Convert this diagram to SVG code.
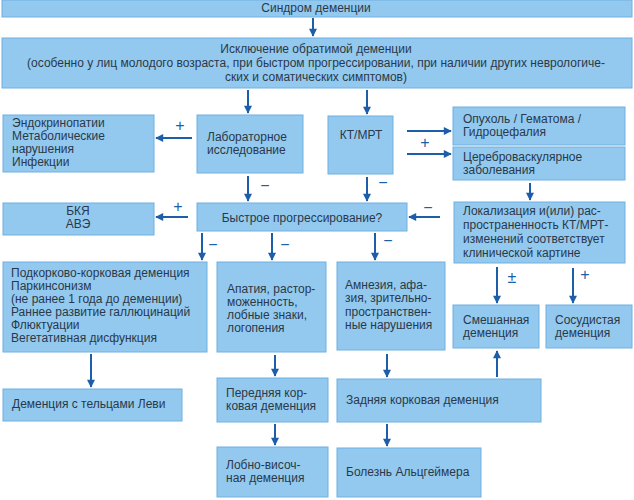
<svg xmlns="http://www.w3.org/2000/svg" width="634" height="500" viewBox="0 0 634 500">
<style>
.b{fill:#93c9ee;stroke:#6fb0e0;stroke-width:1}
.t{font-family:"Liberation Sans",Arial,sans-serif;font-size:12px;fill:#2a384a}
.c{text-anchor:middle}
.s{font-family:"Liberation Sans",Arial,sans-serif;font-size:16px;fill:#1d5ea8;text-anchor:middle}
.a{stroke:#1d5ea8;stroke-width:2;fill:none;marker-end:url(#ah)}
</style>
<defs>
<marker id="ah" viewBox="0 0 10 10" refX="9" refY="5" markerWidth="4.5" markerHeight="4" orient="auto" markerUnits="strokeWidth">
<path d="M0,0 L10,5 L0,10 z" fill="#1d5ea8"/>
</marker>
</defs>
<rect width="634" height="500" fill="#fff"/>
<g id="n1"><rect class="b" x="2" y="0" width="630" height="17"/><text class="t c" x="316" y="12">Синдром деменции</text></g>
<g id="n2"><rect class="b" x="2" y="38" width="630" height="50"/>
<text class="t c" x="316" y="53">Исключение обратимой деменции</text>
<text class="t c" x="316" y="67">(особенно у лиц молодого возраста, при быстром прогрессировании,  при наличии других неврологиче-</text>
<text class="t c" x="316" y="81">ских и соматических симптомов)</text></g>
<g id="n3"><rect class="b" x="3" y="115" width="151" height="57"/>
<text class="t" x="12" y="127">Эндокринопатии</text><text class="t" x="12" y="140">Метаболические</text><text class="t" x="12" y="153">нарушения</text><text class="t" x="12" y="166">Инфекции</text></g>
<g id="n4"><rect class="b" x="197" y="115" width="106" height="58"/>
<text class="t" x="207" y="141">Лабораторное</text><text class="t" x="207" y="154">исследование</text></g>
<g id="n5"><rect class="b" x="328" y="116" width="65" height="58"/><text class="t c" x="361" y="139">КТ/МРТ</text></g>
<g id="n6"><rect class="b" x="453" y="107" width="172" height="38"/>
<text class="t" x="463" y="123">Опухоль / Гематома /</text><text class="t" x="463" y="136">Гидроцефалия</text></g>
<g id="n7"><rect class="b" x="453" y="147" width="172" height="33"/>
<text class="t" x="463" y="161">Цереброваскулярное</text><text class="t" x="463" y="174">заболевания</text></g>
<g id="n8"><rect class="b" x="3" y="203" width="151" height="32"/>
<text class="t c" x="78" y="215">БКЯ</text><text class="t c" x="78" y="228">АВЭ</text></g>
<g id="n9"><rect class="b" x="197" y="203" width="210" height="28"/><text class="t c" x="302" y="222">Быстрое прогрессирование?</text></g>
<g id="n10"><rect class="b" x="454" y="202" width="171" height="61"/>
<text class="t" x="463" y="215">Локализация и(или) рас-</text><text class="t" x="463" y="229">пространенность КТ/МРТ-</text><text class="t" x="463" y="243">изменений соответствует</text><text class="t" x="463" y="257">клинической картине</text></g>
<g id="n11"><rect class="b" x="3" y="262" width="204" height="90"/>
<text class="t" x="11" y="277">Подкорково-корковая деменция</text><text class="t" x="11" y="290">Паркинсонизм</text><text class="t" x="11" y="303">(не ранее 1 года до деменции)</text><text class="t" x="11" y="316">Раннее развитие галлюцинаций</text><text class="t" x="11" y="329">Флюктуации</text><text class="t" x="11" y="342">Вегетативная дисфункция</text></g>
<g id="n12"><rect class="b" x="217" y="262" width="109" height="90"/>
<text class="t" x="227" y="293">Апатия, растор-</text><text class="t" x="227" y="306">моженность,</text><text class="t" x="227" y="319">лобные знаки,</text><text class="t" x="227" y="332">логопения</text></g>
<g id="n13"><rect class="b" x="337" y="262" width="108" height="88"/>
<text class="t" x="345" y="289">Амнезия, афа-</text><text class="t" x="345" y="302">зия, зрительно-</text><text class="t" x="345" y="316">пространствен-</text><text class="t" x="345" y="329">ные нарушения</text></g>
<g id="n14"><rect class="b" x="453" y="305" width="86" height="43"/>
<text class="t" x="463" y="324">Смешанная</text><text class="t" x="463" y="337">деменция</text></g>
<g id="n15"><rect class="b" x="546" y="305" width="86" height="43"/>
<text class="t" x="555" y="324">Сосудистая</text><text class="t" x="555" y="337">деменция</text></g>
<g id="n16"><rect class="b" x="3" y="389" width="179" height="32"/><text class="t" x="12" y="408">Деменция с тельцами Леви</text></g>
<g id="n17"><rect class="b" x="217" y="378" width="111" height="44"/>
<text class="t" x="226" y="397">Передняя кор-</text><text class="t" x="226" y="410">ковая деменция</text></g>
<g id="n18"><rect class="b" x="337" y="379" width="204" height="43"/><text class="t" x="346" y="404">Задняя корковая деменция</text></g>
<g id="n19"><rect class="b" x="217" y="447" width="111" height="50"/>
<text class="t" x="226" y="469">Лобно-височ-</text><text class="t" x="226" y="482">ная деменция</text></g>
<g id="n20"><rect class="b" x="337" y="448" width="144" height="49"/><text class="t" x="346" y="476">Болезнь Альцгеймера</text></g>
<g id="connectors">
<path class="a" d="M313,18 V36"/>
<path class="a" d="M248,90 V113"/>
<path class="a" d="M367,90 V114"/>
<path class="a" d="M192,138 H156"/>
<path class="a" d="M407,131 H451"/>
<path class="a" d="M407,154 H451"/>
<path class="a" d="M248,176 V201"/>
<path class="a" d="M367,177 V201"/>
<path class="a" d="M530,183 V200"/>
<path class="a" d="M188,217 H156"/>
<path class="a" d="M440,217 H409"/>
<path class="a" d="M202,233 V260"/>
<path class="a" d="M272,233 V260"/>
<path class="a" d="M375,233 V260"/>
<path class="a" d="M497,267 V303"/>
<path class="a" d="M573,268 V303"/>
<path class="a" d="M91,354 V387"/>
<path class="a" d="M275,355 V376"/>
<path class="a" d="M387,354 V377"/>
<path class="a" d="M497,377 V351"/>
<path class="a" d="M275,424 V445"/>
<path class="a" d="M387,424 V446"/>
<text class="s" x="180" y="131">+</text>
<text class="s" x="178" y="212">+</text>
<text class="s" x="425" y="148">+</text>
<text class="s" x="585" y="280">+</text>
<text class="s" x="265" y="191">−</text>
<text class="s" x="383" y="188">−</text>
<text class="s" x="428" y="213">−</text>
<text class="s" x="213" y="250">−</text>
<text class="s" x="285" y="250">−</text>
<text class="s" x="388" y="246">−</text>
<text class="s" x="512" y="283">±</text>
</g>
</svg>
